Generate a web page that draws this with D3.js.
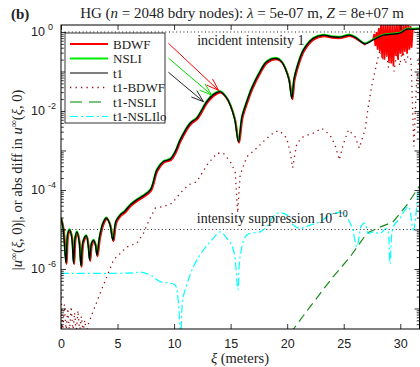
<!DOCTYPE html>
<html><head><meta charset="utf-8">
<script src="https://cdn.jsdelivr.net/npm/d3@7"></script>
<style>
html,body{margin:0;padding:0;background:#fff;}
svg{display:block;}
</style></head><body>
<svg id="c" width="420" height="367"></svg>
<script>
// ---------- data (x in meters, values stored as log10 of amplitude) ----------
const xTicks = [0, 5, 10, 15, 20, 25, 30];
const yTickExps = [0, -2, -4, -6];
const yDecades = [0, -1, -2, -3, -4, -5, -6, -7];

const t1X = [0,0.2,0.44,0.6,0.76,0.95,1.11,1.25,1.41,1.6,1.77,1.95,2.23,2.4,2.53,2.7,2.88,3.05,3.18,3.4,3.7,4.0,4.3,4.59,4.85,5.24,5.6,6.12,6.7,7.15,7.9,8.48,9.06,9.66,10.1,10.54,11.42,12.0,12.9,13.5,14.07,14.6,14.96,15.35,15.69,16.0,16.43,16.87,17.6,18.2,19.08,19.5,19.81,20.15,20.41,20.6,20.85,21.43,22.31,23.2,23.94,24.67,25.56,26.15,26.88,27.6,28.5,29.97,30.57,31.15,31.7];
const t1E = [-4.71,-5.0,-5.85,-5.1,-5.01,-5.2,-5.85,-5.2,-5.06,-5.3,-5.92,-5.3,-5.16,-5.4,-5.77,-5.35,-5.27,-5.4,-5.65,-5.2,-4.85,-4.71,-4.85,-5.27,-4.8,-4.63,-4.55,-4.38,-4.25,-4.17,-4.0,-3.49,-3.28,-3.22,-3.03,-2.73,-2.31,-2.18,-1.76,-1.58,-1.51,-1.65,-1.85,-2.2,-2.78,-2.15,-1.76,-1.42,-1.0,-0.75,-0.67,-0.75,-0.91,-1.2,-1.68,-1.2,-0.91,-0.46,-0.16,-0.08,-0.12,-0.13,-0.08,-0.16,-0.30,-0.20,-0.08,-0.03,0.07,0.07,0.08];

// BDWF noisy part near the right edge (the rest follows t1)
const bdwfNoiseX = [27.6,27.7,27.8,27.9,28.0,28.1,28.2,28.3,28.4,28.5,28.6,28.7,28.8,28.9,29.0,29.1,29.2,29.3,29.4,29.5,29.6,29.7,29.8,29.9,30.0,30.1,30.2,30.3,30.4,30.5,30.6,30.7,30.8,30.9,31.0,31.1];
const bdwfNoiseE = [-0.2,-0.05,-0.35,0.0,-0.45,0.1,-0.5,0.2,-0.65,0.2,-0.7,0.2,-0.6,0.2,-0.75,0.2,-0.8,0.2,-0.85,0.2,-0.6,0.2,-0.7,0.2,-0.55,0.2,-0.6,0.2,-0.5,0.2,-0.55,0.2,-0.45,0.15,-0.4,0.07];

const dBdwfX = [0,0.15,0.3,0.45,0.6,0.75,0.9,1.05,1.2,1.35,1.5,1.65,1.8,1.95,2.1,2.25,2.44,3.47,4.65,5.83,6.71,7.3,7.74,8.33,9.06,9.81,10.54,11.27,12.01,12.9,13.78,14.36,14.96,15.4,15.62,15.84,16.43,17.31,18.2,18.93,19.37,19.96,20.26,20.48,20.85,21.43,22.31,23.06,23.79,24.23,24.61,24.94,25.41,26.0,26.38,26.88,27.17,27.47,27.92,28.2,28.45,28.7,28.95,29.2,29.45,29.7,29.95,30.2,30.45,30.7,30.95,31.2,31.45,31.7];
const dBdwfE = [-6.6,-7.6,-6.9,-7.6,-7.0,-7.6,-6.95,-7.6,-7.1,-7.6,-7.05,-7.6,-7.2,-7.6,-7.3,-7.6,-7.37,-6.61,-5.77,-5.44,-5.35,-5.09,-4.80,-4.46,-4.42,-4.34,-4.08,-3.87,-3.79,-3.37,-3.07,-3.07,-3.28,-3.54,-4.58,-3.62,-3.16,-2.94,-2.69,-2.52,-2.51,-2.69,-3.03,-3.44,-2.82,-2.65,-2.56,-2.44,-2.61,-2.86,-3.24,-2.86,-2.48,-2.65,-2.94,-2.48,-1.89,-1.38,-0.79,-0.46,-0.65,-0.35,-0.9,-0.4,-1.0,-0.5,-0.85,-0.45,-0.8,-0.6,-0.7,-2.9,-1.2,-0.6];

const dNsliX = [20.3,22.02,24.05,25.55,27.06,28.2,29.35,30.59,31.7];
const dNsliE = [-7.62,-6.96,-6.20,-5.70,-5.09,-4.94,-4.81,-4.38,-3.90];

const dNsliloX = [0,6.41,7.0,7.89,8.77,9.66,10.1,10.36,10.58,10.76,10.98,11.71,12.6,13.48,14.07,14.66,15.25,15.64,15.84,16.43,17.6,18.2,19.08,19.96,20.55,21.14,22.02,22.91,24.08,24.96,25.71,26.15,26.59,26.88,27.17,27.61,28.21,28.8,29.09,29.38,29.97,30.71,31.15,31.59,31.7];
const dNsliloE = [-6.11,-6.10,-6.08,-6.15,-6.32,-6.36,-6.41,-6.78,-7.7,-6.78,-6.53,-5.94,-5.52,-5.22,-5.06,-5.22,-5.52,-6.53,-5.69,-5.14,-5.06,-4.93,-4.59,-4.63,-4.89,-4.97,-4.89,-4.80,-4.59,-4.59,-4.93,-5.44,-4.89,-4.84,-5.10,-5.06,-5.10,-4.97,-5.86,-4.93,-4.72,-4.42,-5.01,-4.08,-3.97];

const legendLabels = ["BDWF", "NSLI", "t1", "t1-BDWF", "t1-NSLI", "t1-NSLIlo"];
const refLevels = [0, -5]; // incident intensity 1, suppression 1e-10 (amplitude 1e-5)

// ---------- setup ----------
const m = {left: 61, right: 419.5, top: 25, bottom: 329};
const x = d3.scaleLinear().domain([0, 31.7]).range([m.left, m.right]);
const y = d3.scaleLog().domain([Math.pow(10, -7.52), Math.pow(10, 0.177)]).range([m.bottom, m.top]);
const svg = d3.select("#c");
const serif = '"Liberation Serif","Times New Roman",serif';
const sans = '"Liberation Sans",Arial,sans-serif';

const toPts = (xs, es) => xs.map((v, i) => [v, Math.pow(10, es[i])]);
const t1 = toPts(t1X, t1E);
const bdwf = t1.filter(d => d[0] < 27.6).concat(toPts(bdwfNoiseX, bdwfNoiseE)).concat(t1.filter(d => d[0] > 31.1));
const nsli = t1;
const dB = toPts(dBdwfX, dBdwfE);
const dN = toPts(dNsliX, dNsliE);
const dL = toPts(dNsliloX, dNsliloE);

svg.append("defs").append("clipPath").attr("id", "clip")
  .append("rect").attr("x", m.left).attr("y", m.top).attr("width", m.right - m.left).attr("height", m.bottom - m.top);

const smooth = d3.line().x(d => x(d[0])).y(d => y(d[1])).curve(d3.curveCatmullRom.alpha(0.5));
const lin = d3.line().x(d => x(d[0])).y(d => y(d[1]));

const plot = svg.append("g").attr("clip-path", "url(#clip)");

// reference lines
refLevels.forEach(e => {
  plot.append("line").attr("x1", x(0)).attr("x2", x(31.7)).attr("y1", y(Math.pow(10, e))).attr("y2", y(Math.pow(10, e)))
    .attr("stroke", "#222").attr("stroke-width", 1).attr("stroke-dasharray", "1,2.6");
});

// difference curves
plot.append("path").datum(dB).attr("d", lin).attr("fill", "none").attr("stroke", "#9b0d0d")
  .attr("stroke-width", 1.3).attr("stroke-dasharray", "1.3,4.2");
plot.append("path").datum(dN).attr("d", lin).attr("fill", "none").attr("stroke", "#1a8a1a")
  .attr("stroke-width", 1.2).attr("stroke-dasharray", "9,5");
plot.append("path").datum(dL).attr("d", smooth).attr("fill", "none").attr("stroke", "#00ffff")
  .attr("stroke-width", 1.2).attr("stroke-dasharray", "8,3,2,3");

// main curves
const bdwfSmooth = bdwf.filter(d => d[0] < 27.6);
plot.append("path").datum(bdwfSmooth).attr("d", smooth).attr("fill", "none").attr("stroke", "#ff0000")
  .attr("stroke-width", 2).attr("transform", "translate(0.6,1)");
plot.append("path").datum(bdwf.filter(d => d[0] >= 27.5)).attr("d", lin).attr("fill", "none").attr("stroke", "#ff0000")
  .attr("stroke-width", 1.8);
plot.append("path").datum(nsli).attr("d", smooth).attr("fill", "none").attr("stroke", "#00ee00")
  .attr("stroke-width", 1.8).attr("transform", "translate(0,-0.6)");
plot.append("path").datum(t1).attr("d", smooth).attr("fill", "none").attr("stroke", "#000")
  .attr("stroke-width", 1.4);

// axes (inward ticks, MATLAB box)
const minorVals = [];
for (let e = -8; e <= 0; e++) for (let k = 2; k <= 9; k++) {
  const v = k * Math.pow(10, e);
  if (v >= y.domain()[0] && v <= y.domain()[1]) minorVals.push(v);
}
const decVals = yDecades.map(e => Math.pow(10, e));
const axG = svg.append("g").attr("font-family", sans);
function yAx(gen, xpos) {
  const g = axG.append("g").attr("transform", `translate(${xpos},0)`).call(gen);
  g.select(".domain").remove();
  g.selectAll("line").attr("stroke", "#000").attr("stroke-width", 0.8);
  g.selectAll("text").remove();
}
yAx(d3.axisLeft(y).tickValues(decVals).tickSize(-5), m.left);
yAx(d3.axisLeft(y).tickValues(minorVals).tickSize(-2.8), m.left);
yAx(d3.axisRight(y).tickValues(decVals).tickSize(-5), m.right);
yAx(d3.axisRight(y).tickValues(minorVals).tickSize(-2.8), m.right);

const xb = axG.append("g").attr("transform", `translate(0,${m.bottom})`)
  .call(d3.axisBottom(x).tickValues(xTicks).tickSize(-5).tickPadding(10));
xb.select(".domain").remove();
xb.selectAll("line").attr("stroke", "#000").attr("stroke-width", 0.8);
xb.selectAll("text").attr("font-size", 12.5).attr("fill", "#222").attr("font-family", sans);
const xt = axG.append("g").attr("transform", `translate(0,${m.top})`)
  .call(d3.axisTop(x).tickValues(xTicks).tickSize(-5).tickFormat(""));
xt.select(".domain").remove();
xt.selectAll("line").attr("stroke", "#000").attr("stroke-width", 0.8);

svg.append("rect").attr("x", m.left).attr("y", m.top).attr("width", m.right - m.left).attr("height", m.bottom - m.top)
  .attr("fill", "none").attr("stroke", "#000").attr("stroke-width", 1);

// y tick labels 10^k
yTickExps.forEach(e => {
  const yy = y(Math.pow(10, e));
  svg.append("text").attr("x", 45).attr("y", yy + 4.5).attr("font-family", sans)
    .attr("font-size", 12.5).attr("fill", "#222").attr("text-anchor", "end").text("10");
  svg.append("text").attr("x", 48).attr("y", yy - 2).attr("font-family", sans)
    .attr("font-size", 9).attr("fill", "#222").text(e === 0 ? "0" : "-" + (-e));
});

// titles
const title = svg.append("text").attr("x", 242).attr("y", 18).attr("text-anchor", "middle")
  .attr("font-family", serif).attr("font-size", 15).attr("fill", "#222");
title.append("tspan").text("HG (");
title.append("tspan").attr("font-style", "italic").text("n");
title.append("tspan").text(" = 2048 bdry nodes):  ");
title.append("tspan").attr("font-style", "italic").text("λ");
title.append("tspan").text(" = 5e-07 m, ");
title.append("tspan").attr("font-style", "italic").text("Z");
title.append("tspan").text(" = 8e+07 m");

svg.append("text").attr("x", 11).attr("y", 19).attr("font-family", serif).attr("font-weight", "bold")
  .attr("font-size", 15).attr("fill", "#222").text("(b)");

const xl = svg.append("text").attr("x", 240).attr("y", 363).attr("text-anchor", "middle")
  .attr("font-family", serif).attr("font-size", 14.5).attr("fill", "#222");
xl.append("tspan").attr("font-style", "italic").text("ξ");
xl.append("tspan").text(" (meters)");

const yl = svg.append("text").attr("transform", "translate(22,180) rotate(-90)").attr("text-anchor", "middle")
  .attr("font-family", serif).attr("font-size", 14.5).attr("fill", "#222");
function uInf(parent) {
  parent.append("tspan").attr("font-style", "italic").text("u");
  parent.append("tspan").attr("font-size", 10).attr("dy", -5).text("∞");
  parent.append("tspan").attr("dy", 5).text("(");
  parent.append("tspan").attr("font-style", "italic").text("ξ");
  parent.append("tspan").text(", 0)");
}
yl.append("tspan").text("|");
uInf(yl);
yl.append("tspan").text("|, or abs diff in ");
uInf(yl);

// annotations
svg.append("text").attr("x", x(12.04)).attr("y", y(1) + 13.5).attr("font-family", serif)
  .attr("font-size", 14).attr("fill", "#222").text("incident intensity 1");
const sup = svg.append("text").attr("x", x(12.01)).attr("y", y(1e-5) - 6).attr("font-family", serif)
  .attr("font-size", 14).attr("fill", "#222");
sup.append("tspan").text("intensity suppression 10");
sup.append("tspan").attr("dy", -6).attr("font-size", 10).text("−10");

// legend
const lg = svg.append("g");
lg.append("rect").attr("x", 65).attr("y", 33).attr("width", 100).attr("height", 90)
  .attr("fill", "#fff").attr("stroke", "#000").attr("stroke-width", 0.8);
const lStyles = [
  {c: "#ff0000", w: 1.8, d: null},
  {c: "#00ee00", w: 1.8, d: null},
  {c: "#000", w: 1.2, d: null},
  {c: "#9b0d0d", w: 1.3, d: "1.3,4.2"},
  {c: "#4caf50", w: 1.6, d: "12,7"},
  {c: "#00ffff", w: 1.2, d: "8,3,2,3"}
];
legendLabels.forEach((lab, i) => {
  const yy = 44 + i * 14.5;
  lg.append("line").attr("x1", 70).attr("x2", 108).attr("y1", yy).attr("y2", yy)
    .attr("stroke", lStyles[i].c).attr("stroke-width", lStyles[i].w).attr("stroke-dasharray", lStyles[i].d);
  lg.append("text").attr("x", 113).attr("y", yy + 4.5).attr("font-family", serif).attr("font-size", 13)
    .attr("fill", "#222").text(lab);
});

// arrows (data coordinates)
const arrows = [
  {c: "#ff0000", x0: 9.5, e0: -0.286, x1: 13.94, e1: -1.48},
  {c: "#00dd00", x0: 9.5, e0: -0.66, x1: 13.32, e1: -1.595},
  {c: "#222", x0: 9.5, e0: -1.02, x1: 12.6, e1: -1.765}
];
arrows.forEach(a => {
  const X0 = x(a.x0), Y0 = y(Math.pow(10, a.e0)), X1 = x(a.x1), Y1 = y(Math.pow(10, a.e1));
  const ang = Math.atan2(Y1 - Y0, X1 - X0), L = 13, sp = 0.33;
  const g = svg.append("g").attr("stroke", a.c).attr("stroke-width", 1).attr("fill", "none");
  g.append("line").attr("x1", X0).attr("y1", Y0).attr("x2", X1).attr("y2", Y1);
  [-sp, sp].forEach(s => g.append("line").attr("x1", X1).attr("y1", Y1)
    .attr("x2", X1 - L * Math.cos(ang + s)).attr("y2", Y1 - L * Math.sin(ang + s)));
});
</script>
</body></html>
